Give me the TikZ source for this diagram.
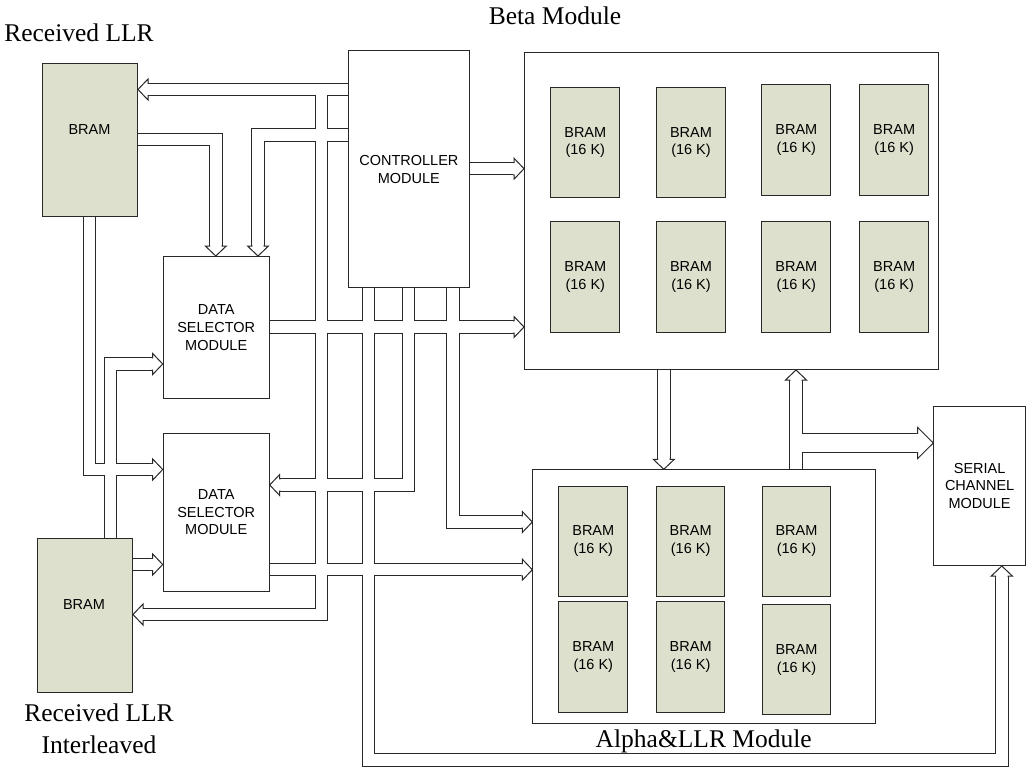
\documentclass[tikz,border=0pt]{standalone}
\usepackage{fontspec}
\setmainfont{Liberation Serif}
\setsansfont{Liberation Sans}
\usetikzlibrary{calc}
\pgfdeclarelayer{bg}
\pgfsetlayers{bg,main}
\definecolor{bramfill}{RGB}{221,224,204}
\definecolor{ln}{RGB}{40,40,40}
\tikzset{
  box/.style={draw=ln, line width=1pt, fill=white, inner sep=0pt, align=center,
    font=\sffamily\fontsize{14.5}{17.8}\selectfont, anchor=north west},
  bramcell/.style={box, fill=bramfill},
  boxtext/.style={inner sep=0pt, font=\sffamily\fontsize{14.5}{17.8}\selectfont},
  lbl/.style={inner sep=0pt, align=center, font=\fontsize{25.5}{32}\selectfont},
}
\newcommand\ahead[2]{\filldraw[fill=white, draw=ln, line width=1pt, line join=miter, shift={#1}, rotate=#2]
  (-11,6.2) -- (-10,6.2) -- (-10,10.5) -- (0,0) -- (-10,-10.5) -- (-10,-6.2) -- (-11,-6.2);}
\newcommand\bighead[2]{\filldraw[fill=white, draw=ln, line width=1pt, line join=miter, shift={#1}, rotate=#2]
  (-16.6,9.7) -- (-15.6,9.7) -- (-15.6,15.5) -- (0,0) -- (-15.6,-15.5) -- (-15.6,-9.7) -- (-16.6,-9.7);}
\newcommand\buslist{%
  % controller -> BRAM (top) and branch -> BRAM (bottom)
  \draw[bus] (ctrl.west |- 0,89.5) -- (147,89.5);
  \draw[bus] (321.5,89.5) -- (321.5,614.5) -- (142,614.5);
  % controller -> DS1 top
  \draw[bus] (ctrl.west |- 0,134.8) -- (258,134.8) -- (258,246);
  % BRAM1 -> DS1 top
  \draw[bus] (bram1.east |- 0,139.7) -- (215.8,139.7) -- (215.8,246);
  % BRAM1 -> DS2 left
  \draw[bus] (89.2,0 |- bram1.south) -- (89.2,469.5) -- (152.7,469.5);
  % BRAM2 -> DS1 left
  \draw[bus] (110.3,0 |- bram2.north) -- (110.3,364) -- (152.7,364);
  % BRAM2 -> DS2
  \draw[bus] (bram2.east |- 0,564.5) -- (152.7,564.5);
  % DS1 -> Beta
  \draw[bus] (ds1.east |- 0,327) -- (514,327);
  % controller -> Beta
  \draw[bus] (ctrl.east |- 0,168.7) -- (514,168.7);
  % DS2 -> Alpha
  \draw[bus] (ds2.east |- 0,569.7) -- (522.3,569.7);
  % controller -> serial channel
  \draw[bus] (368.7,0 |- ctrl.south) -- (368.7,760) -- (1001.8,760) -- (1001.8,575);
  % controller -> DS2 right
  \draw[bus] (408.2,0 |- ctrl.south) -- (408.2,485) -- (278.7,485);
  % controller -> Alpha
  \draw[bus] (453,0 |- ctrl.south) -- (453,522) -- (522.3,522);
  % Beta -> Alpha
  \draw[bus] (663.8,0 |- beta.south) -- (663.8,459.3);
  % Alpha -> Beta
  \draw[bus] (796,0 |- alpha.north) -- (796,379);
  % Alpha -> Serial
  \draw[bigbus] (796,443) -- (917.7,443);
}
\begin{document}
\begin{tikzpicture}[x=1pt,y=-1pt]
\useasboundingbox (0,0) rectangle (1029,771);

% boxes
\node[box, fill=bramfill, minimum width=95pt, minimum height=153pt] (bram1) at (42,63) {};
\node[box, fill=bramfill, minimum width=95pt, minimum height=154pt] (bram2) at (37,538) {};
\node[box, minimum width=121.3pt, minimum height=237.3pt] (ctrl) at (347.7,50) {CONTROLLER\\MODULE};
\node[box, minimum width=106pt, minimum height=142.3pt] (ds1) at (162.7,256) {DATA\\SELECTOR\\MODULE};
\node[box, minimum width=106pt, minimum height=158pt] (ds2) at (162.7,432.7) {DATA\\SELECTOR\\MODULE};
\node[box, minimum width=414.3pt, minimum height=317pt] (beta) at (524,52) {};
\node[box, minimum width=342.7pt, minimum height=253.4pt] (alpha) at (532.3,469.3) {};
\node[box, minimum width=91.7pt, minimum height=159pt] (serial) at (933.3,406) {SERIAL\\CHANNEL\\MODULE};

\node[boxtext] (bram1t) at (89.5,130) {BRAM};
\node[boxtext] (bram2t) at (84,605) {BRAM};

% Beta module cells
\node[bramcell, minimum width=69pt, minimum height=110.6pt] (b11) at (550.3,86.7) {BRAM\\(16 K)};
\node[bramcell, minimum width=69pt, minimum height=110.6pt] (b12) at (656,86.7) {BRAM\\(16 K)};
\node[bramcell, minimum width=69pt, minimum height=110.7pt] (b13) at (761.3,84.3) {BRAM\\(16 K)};
\node[bramcell, minimum width=68.7pt, minimum height=110.7pt] (b14) at (859.3,84.3) {BRAM\\(16 K)};
\node[bramcell, minimum width=69pt, minimum height=111pt] (b21) at (550.3,221.3) {BRAM\\(16 K)};
\node[bramcell, minimum width=69pt, minimum height=111pt] (b22) at (656,221.3) {BRAM\\(16 K)};
\node[bramcell, minimum width=69pt, minimum height=111pt] (b23) at (761.3,221.3) {BRAM\\(16 K)};
\node[bramcell, minimum width=68.7pt, minimum height=111pt] (b24) at (859.3,221.3) {BRAM\\(16 K)};

% Alpha module cells
\node[bramcell, minimum width=69pt, minimum height=110.3pt] (a11) at (558.3,485.7) {BRAM\\(16 K)};
\node[bramcell, minimum width=68.3pt, minimum height=110.3pt] (a12) at (656,485.7) {BRAM\\(16 K)};
\node[bramcell, minimum width=68.6pt, minimum height=110.3pt] (a13) at (761.7,485.7) {BRAM\\(16 K)};
\node[bramcell, minimum width=69pt, minimum height=110.7pt] (a21) at (558.3,601.3) {BRAM\\(16 K)};
\node[bramcell, minimum width=68.3pt, minimum height=110.7pt] (a22) at (656,601.3) {BRAM\\(16 K)};
\node[bramcell, minimum width=68.6pt, minimum height=110pt] (a23) at (761.7,604.3) {BRAM\\(16 K)};

% labels
\node[lbl] (l1) at (79,33) {Received LLR};
\node[lbl] (l2) at (99,729) {Received LLR\\Interleaved};
\node[lbl] (l3) at (703.7,741) {Alpha\&LLR Module};
\node[lbl] (l4) at (555,16) {Beta Module};

% buses (background layer)
\begin{pgfonlayer}{bg}
  \fill[white] (0,0) rectangle (1029,771);
  \begin{scope}[bus/.style={line width=13.4pt, draw=ln, line join=miter},
                bigbus/.style={line width=20.4pt, draw=ln, line join=miter}]
    \buslist
  \end{scope}
  \begin{scope}[bus/.style={line width=11.4pt, draw=white, line join=miter},
                bigbus/.style={line width=18.4pt, draw=white, line join=miter}]
    \buslist
  \end{scope}
  \ahead{(bram1.east |- 0,89.5)}{180}
  \ahead{(bram2.east |- 0,614.5)}{180}
  \ahead{(258,0 |- ds1.north)}{-90}
  \ahead{(215.8,0 |- ds1.north)}{-90}
  \ahead{(ds2.west |- 0,469.5)}{0}
  \ahead{(ds1.west |- 0,364)}{0}
  \ahead{(ds2.west |- 0,564.5)}{0}
  \ahead{(beta.west |- 0,327)}{0}
  \ahead{(beta.west |- 0,168.7)}{0}
  \ahead{(alpha.west |- 0,569.7)}{0}
  \ahead{(1001.8,0 |- serial.south)}{90}
  \ahead{(ds2.east |- 0,485)}{180}
  \ahead{(alpha.west |- 0,522)}{0}
  \ahead{(663.8,0 |- alpha.north)}{-90}
  \ahead{(796,0 |- beta.south)}{90}
  \bighead{(serial.west |- 0,443)}{0}
\end{pgfonlayer}
\end{tikzpicture}
\end{document}
